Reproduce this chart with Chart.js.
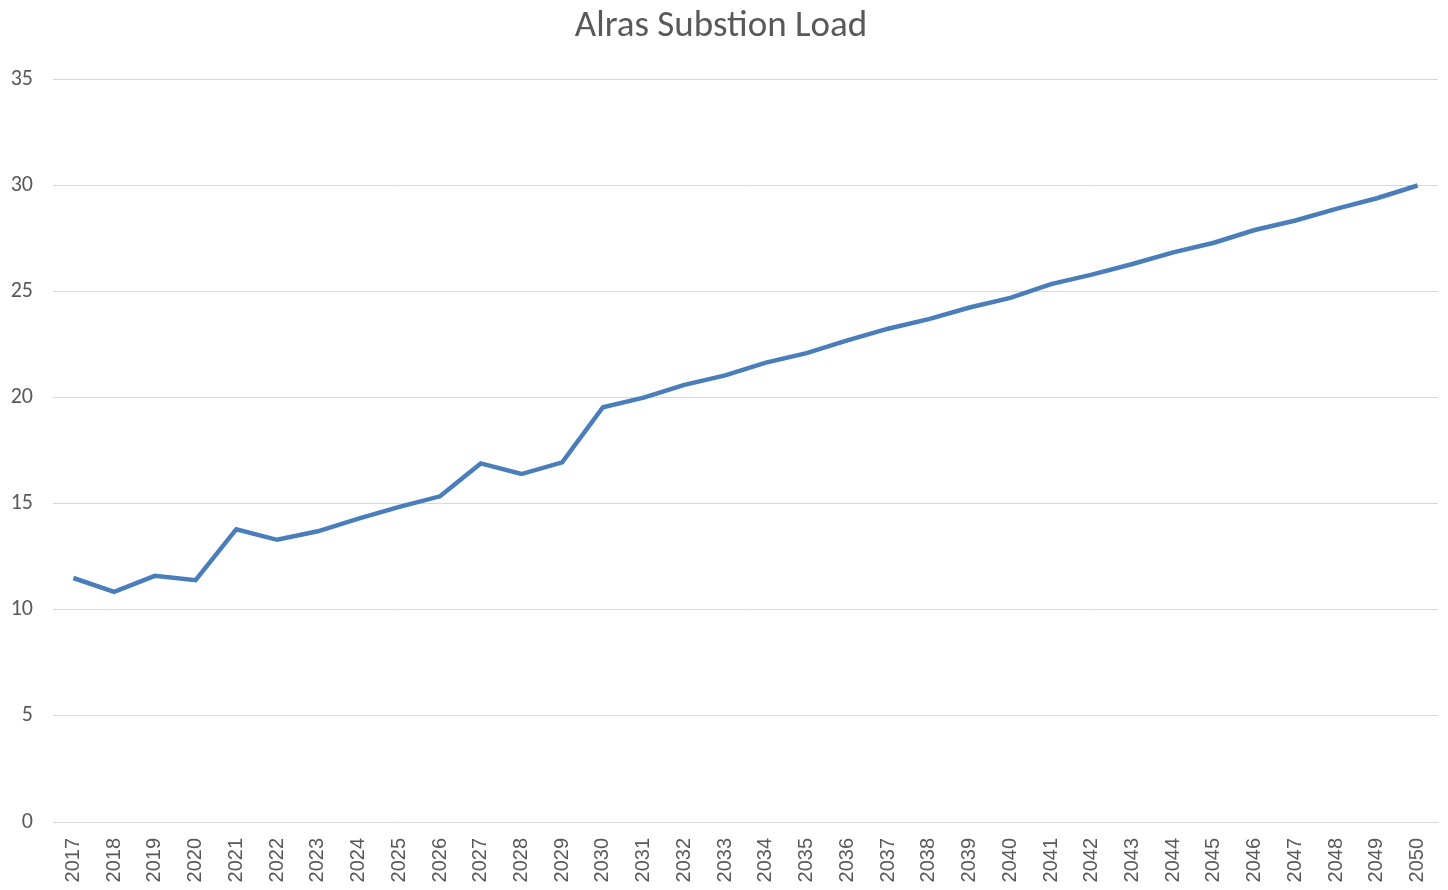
<!DOCTYPE html>
<html>
<head>
<meta charset="utf-8">
<script src="https://cdn.jsdelivr.net/npm/chart.js@4"></script>
<style>
html,body{margin:0;padding:0;background:#fff;}
#wrap{width:1448px;height:890px;}
</style>
</head>
<body>
<div id="wrap"><canvas id="c" width="1448" height="890"></canvas></div>
<script>
const years = ["2017","2018","2019","2020","2021","2022","2023","2024","2025","2026","2027","2028","2029","2030","2031","2032","2033","2034","2035","2036","2037","2038","2039","2040","2041","2042","2043","2044","2045","2046","2047","2048","2049","2050"];
const load = [11.5,10.85,11.6,11.4,13.8,13.3,13.7,14.3,14.85,15.35,16.9,16.4,16.95,19.55,20.0,20.6,21.05,21.65,22.1,22.7,23.25,23.7,24.25,24.7,25.35,25.8,26.3,26.85,27.3,27.9,28.35,28.9,29.4,30.0];
const yTicks = [0,5,10,15,20,25,30,35];

new Chart(document.getElementById('c'), {
  type: 'line',
  data: {
    labels: years,
    datasets: [{
      label: 'Load',
      data: load,
      borderColor: '#4a7ebb',
      borderWidth: 4.5,
      pointRadius: 0,
      tension: 0,
      fill: false
    }]
  },
  options: {
    responsive: false,
    animation: false,
    devicePixelRatio: 1,
    layout: { padding: { left: 4, right: 10, top: 0, bottom: 2 } },
    plugins: {
      legend: { display: false },
      tooltip: { enabled: false },
      title: {
        display: true,
        text: 'Alras Substion Load',
        color: '#595959',
        font: { family: 'Carlito, "Liberation Sans Narrow", "Open Sans", sans-serif', size: 37, weight: 'normal', lineHeight: 1.2 },
        padding: { top: 5, bottom: 30 }
      }
    },
    scales: {
      x: {
        offset: true,
        grid: { display: false, drawTicks: false },
        border: { display: true, color: '#d9d9d9', width: 1 },
        ticks: {
          color: '#595959',
          font: { family: '"Liberation Sans", Arial, sans-serif', size: 20 },
          maxRotation: 90, minRotation: 90, autoSkip: false, padding: 16
        },
        afterFit: s => { s.height = 66; s.paddingLeft = 0; s.paddingRight = 0; }
      },
      y: {
        min: 0, max: 35,
        afterBuildTicks: s => { s.ticks = yTicks.map(v => ({ value: v })); },
        grid: { color: '#d9d9d9', lineWidth: 1, drawTicks: false },
        border: { display: false },
        ticks: {
          color: '#595959',
          font: { family: 'Carlito, "Liberation Sans Narrow", "Open Sans", sans-serif', size: 22 },
          padding: 20
        },
        afterFit: s => { s.width = 49; }
      }
    }
  }
});
</script>
</body>
</html>
